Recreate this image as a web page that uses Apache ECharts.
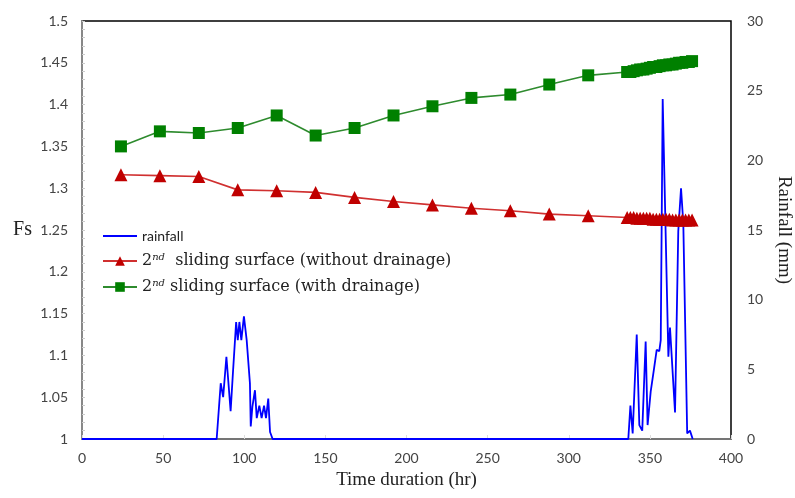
<!DOCTYPE html>
<html><head><meta charset="utf-8">
<script src="https://cdn.jsdelivr.net/npm/echarts@6/dist/echarts.min.js"></script>
<style>html,body{margin:0;padding:0;background:#fff}#c{width:795px;height:498px}</style>
</head><body><div id="c"></div>
<script>
// Time (hr) of the Fs samples
const fsHours = [24,48,72,96,120,144,168,192,216,240,264,288,312,336,338,340,342,344,346,348,350,352,354,356,358,360,362,364,366,368,370,372,374,376];
// Fs, 2nd sliding surface without drainage
const fsNoDrain = [1.316,1.315,1.314,1.298,1.297,1.295,1.289,1.284,1.280,1.276,1.273,1.269,1.267,1.265,1.265,1.265,1.264,1.264,1.264,1.264,1.264,1.263,1.263,1.263,1.263,1.263,1.263,1.262,1.262,1.262,1.262,1.262,1.262,1.262];
// Fs, 2nd sliding surface with drainage
const fsDrain = [1.350,1.368,1.366,1.372,1.387,1.363,1.372,1.387,1.398,1.408,1.412,1.424,1.435,1.439,1.439,1.440,1.441,1.442,1.442,1.443,1.444,1.445,1.445,1.446,1.447,1.447,1.448,1.448,1.449,1.450,1.450,1.451,1.451,1.452];
// Rainfall (mm) samples
const rainHours = [0,83,85.5,87,89,91.6,93,95,96,97,98.2,99.8,101.5,103.5,104,105,106.6,107.7,109.3,110.7,112.2,113.4,114.8,115.9,117.5,
  336.7,338,339.4,341.9,343.5,345.3,347.4,348.6,350.5,352.5,354.2,355.8,356.7,357.9,361.4,362.4,365.5,367.5,368.6,369.2,370.6,373,374.7,376.4];
const rainMm = [0,0,4.0,3.0,5.9,2.0,4.7,8.4,7.1,8.4,7.1,8.8,7.1,4.0,0.9,2.3,3.5,1.5,2.4,1.5,2.4,1.5,2.9,0.5,0,
  0,2.4,0.4,7.5,1.0,0.6,7.0,1.0,3.4,5.0,6.4,6.3,7.1,24.4,5.9,8.0,1.9,14.9,14.9,18.0,15.5,0.4,0.6,0];

const pair = (xs, ys) => xs.map((x, i) => [x, ys[i]]);
const serif = 'Liberation Serif';
const legSerif = 'DejaVu Serif';
const chart = echarts.init(document.getElementById('c'));
chart.setOption({
  animation: false,
  backgroundColor: '#fff',
  grid: {left: 82, right: 64, top: 21, bottom: 59, containLabel: false, outerBoundsMode: 'none',
         show: true, borderColor: '#000', borderWidth: 1.5},
  legend: {
    orient: 'vertical', left: 97, top: 224, itemGap: 9, itemWidth: 34, itemHeight: 12,
    data: [
      {name: 'rainfall', itemStyle: {opacity: 0}},
      {name: 'noDrain'},
      {name: 'drain'}
    ],
    formatter: function (n) {
      if (n === 'rainfall') return '{s|rainfall}';
      if (n === 'noDrain') return '{a|2}{sup|nd}{a|  sliding surface (without drainage)}';
      return '{a|2}{sup|nd}{a| sliding surface (with drainage)}';
    },
    textStyle: {
      rich: {
        s: {fontFamily: 'Lato', fontSize: 14, color: '#222'},
        a: {fontFamily: legSerif, fontSize: 16, color: '#222'},
        sup: {fontFamily: legSerif, fontSize: 10, fontStyle: 'italic', color: '#222', verticalAlign: 'bottom', padding: [0, 0, 8, 0]}
      }
    }
  },
  xAxis: {
    type: 'value', min: 0, max: 400, interval: 50,
    name: 'Time duration (hr)', nameLocation: 'middle', nameGap: 32,
    nameTextStyle: {fontFamily: serif, fontSize: 19, color: '#222'},
    axisLine: {lineStyle: {color: '#888', width: 1.5}},
    axisTick: {inside: true, length: 4, lineStyle: {color: '#ddd'}},
    axisLabel: {fontFamily: 'Lato', fontSize: 14, color: '#444', margin: 12},
    splitLine: {show: false}
  },
  yAxis: [{
    type: 'value', min: 1, max: 1.5, interval: 0.05,
    name: 'Fs', nameLocation: 'middle', nameRotate: 0, nameGap: 50,
    nameTextStyle: {fontFamily: serif, fontSize: 20, color: '#222'},
    axisLine: {show: true, lineStyle: {color: '#888', width: 2}},
    axisTick: {show: true, inside: true, length: 3, lineStyle: {color: '#ccc'}},
    minorTick: {show: true, splitNumber: 5, length: 3, lineStyle: {color: '#ccc'}},
    axisLabel: {fontFamily: 'Lato', fontSize: 14, color: '#444', margin: 14},
    splitLine: {show: false}
  }, {
    type: 'value', min: 0, max: 30, interval: 5, position: 'right',
    name: 'Rainfall (mm)', nameLocation: 'middle', nameRotate: -90, nameGap: 38,
    nameTextStyle: {fontFamily: serif, fontSize: 19, color: '#222'},
    axisLine: {show: false}, axisTick: {show: false},
    axisLabel: {fontFamily: 'Lato', fontSize: 14, color: '#444', margin: 16},
    splitLine: {show: false}
  }],
  series: [{
    name: 'rainfall', type: 'line', yAxisIndex: 1, showSymbol: false, symbol: 'none',
    data: pair(rainHours, rainMm), lineStyle: {color: '#0000ff', width: 1.8}, itemStyle: {color: '#0000ff'}, z: 3
  }, {
    name: 'noDrain', type: 'line', yAxisIndex: 0, symbol: 'triangle', symbolSize: 13,
    data: pair(fsHours, fsNoDrain), lineStyle: {color: '#d03030', width: 1.6}, itemStyle: {color: '#c00000'}, z: 4
  }, {
    name: 'drain', type: 'line', yAxisIndex: 0, symbol: 'rect', symbolSize: 12,
    data: pair(fsHours, fsDrain), lineStyle: {color: '#2e8b2e', width: 1.6}, itemStyle: {color: '#008000'}, z: 4
  }]
});
</script></body></html>
